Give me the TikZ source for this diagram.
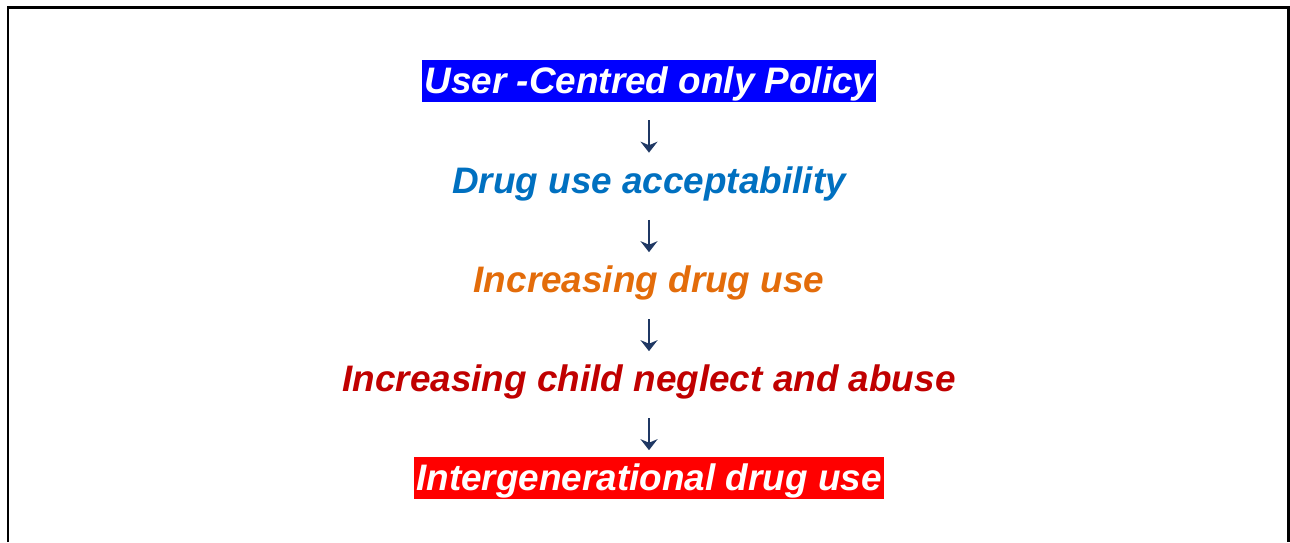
\documentclass[tikz,border=0pt]{standalone}
\usepackage{fontspec}
\setmainfont{Liberation Sans}
\usepackage[HTML]{xcolor}
\usetikzlibrary{arrows.meta}

\definecolor{policyblue}{HTML}{0000FF}
\definecolor{accblue}{HTML}{0070C0}
\definecolor{useorange}{HTML}{E36C0A}
\definecolor{neglectred}{HTML}{C00000}
\definecolor{genred}{HTML}{FF0000}
\definecolor{arrownavy}{HTML}{1F3864}

\begin{document}
\begin{tikzpicture}[x=0.02cm, y=-0.02cm,
  lvl/.style={font=\fontsize{21}{25}\selectfont\bfseries\itshape, anchor=base,
    inner sep=0pt, text height=0.68cm, text depth=0.17cm},
  boxed/.style={lvl, fill=#1, text=white, inner xsep=0.05cm},
  flow/.style={draw=arrownavy, line width=1.5pt, -{Stealth[length=0.22cm,width=0.34cm]},
    shorten <=0.36cm, shorten >=0.12cm}]
\useasboundingbox (0,0) rectangle (1290,542);

% open frame, cut off at the bottom
\draw[line width=0.06cm] (8,542) -- (8,7) -- (1288,7) -- (1288,542);

% the chain of effects
\node[boxed=policyblue] (policy) at (649,93.5) {User -Centred only Policy};
\node[lvl, text=accblue] (accept) at (649,193) {Drug use acceptability};
\node[lvl, text=useorange] (incuse) at (649,292.5) {Increasing drug use};
\node[lvl, text=neglectred] (neglect) at (649,391.5) {Increasing child neglect and abuse};
\node[boxed=genred] (intergen) at (649,490.5) {Intergenerational drug use};

\draw[flow] (policy) -- (accept);
\draw[flow] (accept) -- (incuse);
\draw[flow] (incuse) -- (neglect);
\draw[flow] (neglect) -- (intergen);
\end{tikzpicture}
\end{document}
